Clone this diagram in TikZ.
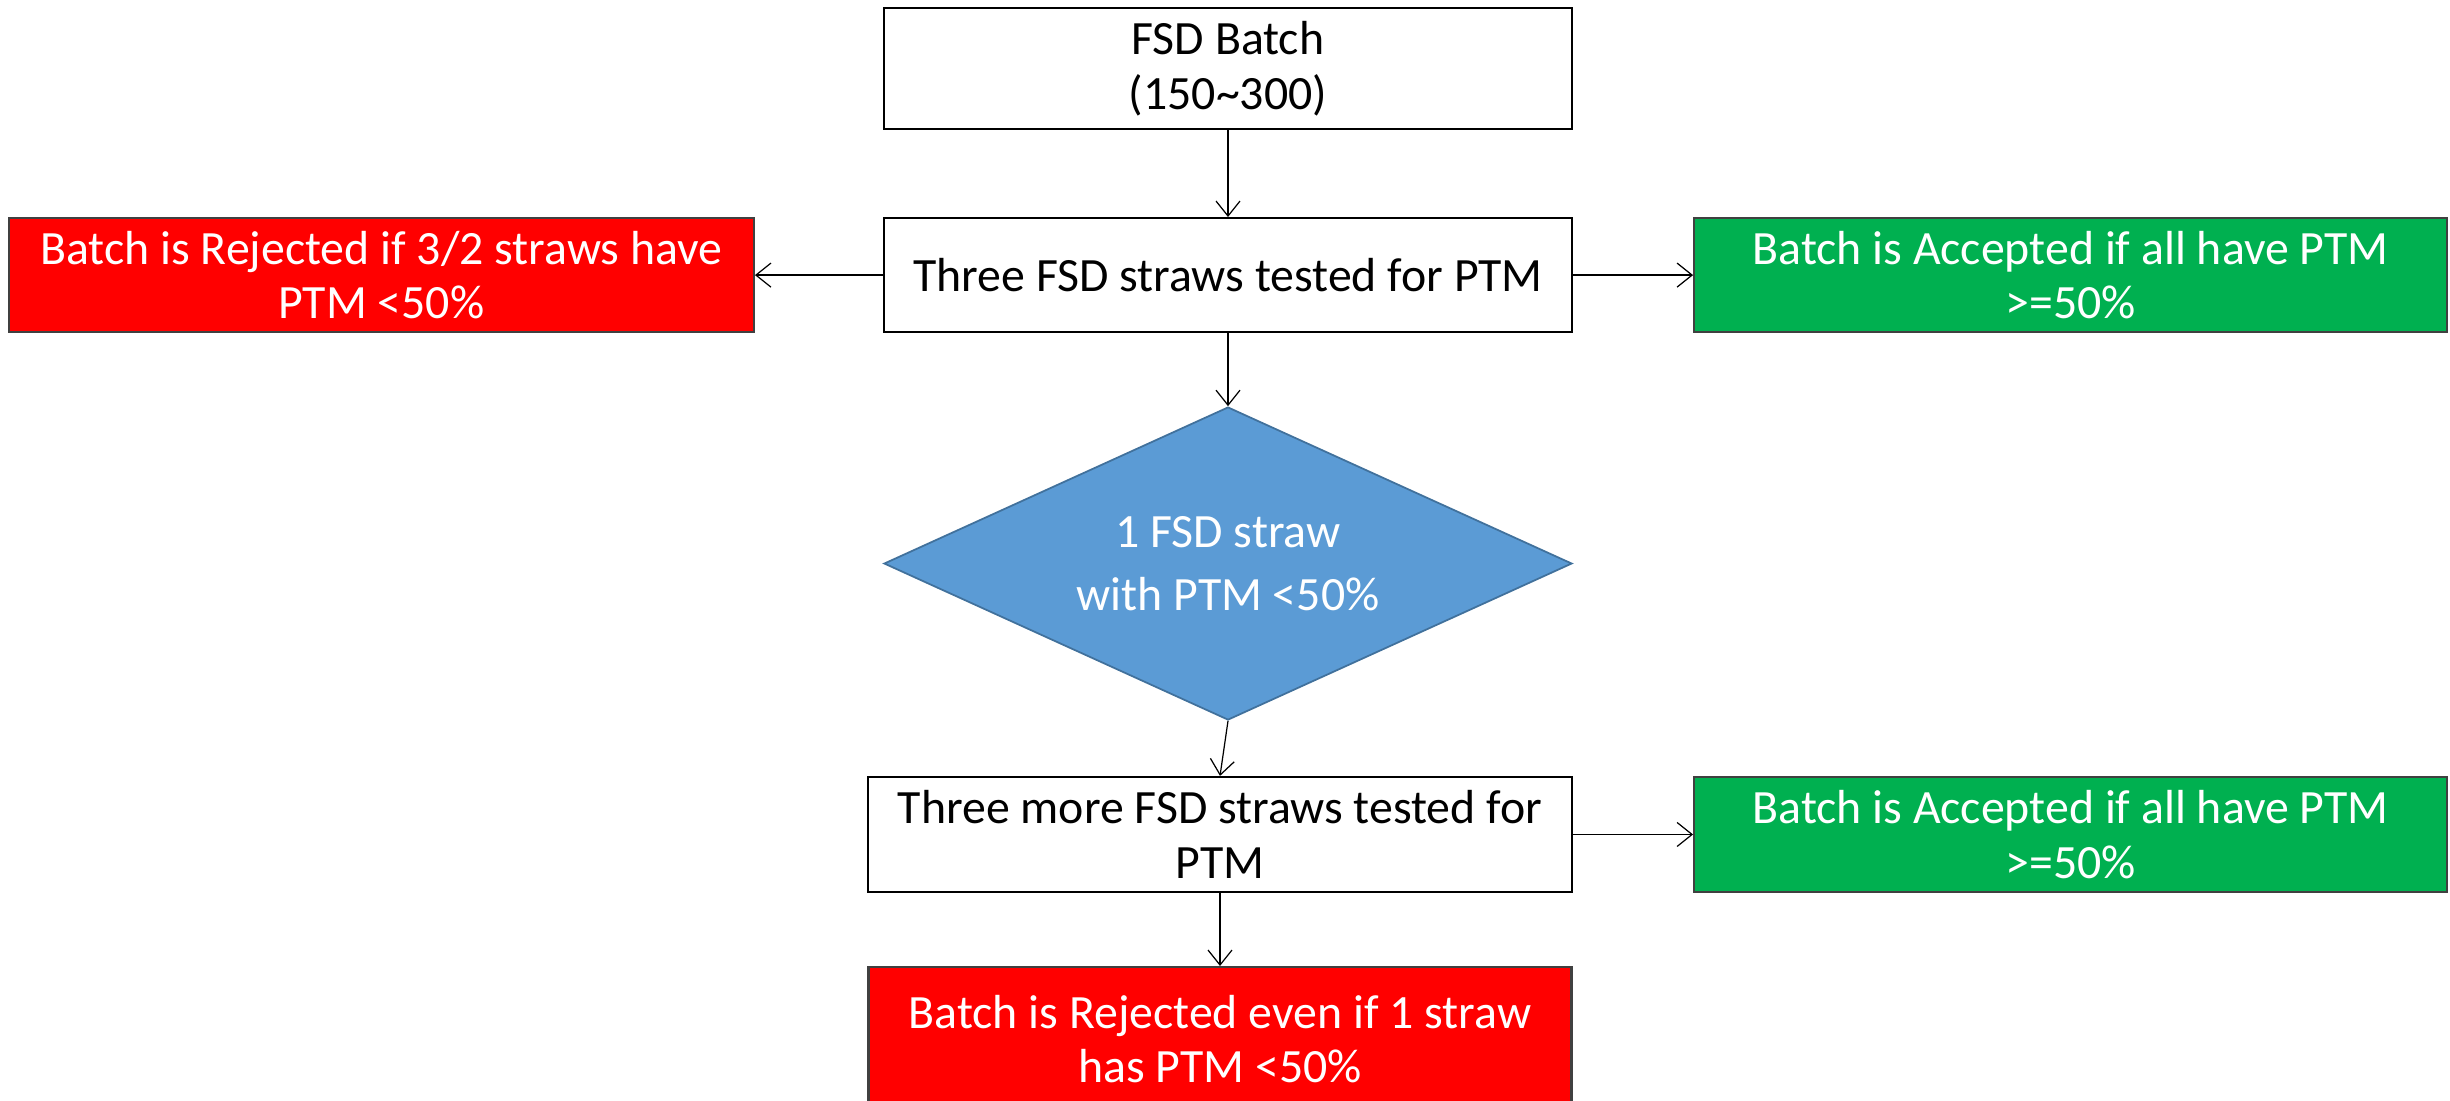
\documentclass[tikz,border=0pt]{standalone}
\usepackage{fontspec}
\setmainfont{Carlito}
\usetikzlibrary{arrows.meta,positioning,shapes.geometric}
\definecolor{okgreen}{HTML}{00B050}
\definecolor{decblue}{HTML}{5B9BD5}
\definecolor{decline}{HTML}{41719C}

\begin{document}
\begin{tikzpicture}[
  node distance=8mm and 12mm,
  box/.style={rectangle, draw=black, line width=0.6pt, fill=white,
              minimum width=6.88cm, minimum height=1.14cm, align=center,
              inner sep=0pt, font=\fontsize{13.6}{15.5}\selectfont},
  boxr/.style={box, fill=red, draw=black!75, text=white, minimum width=7.45cm},
  boxg/.style={box, fill=okgreen, draw=black!75, text=white, minimum width=7.53cm},
  decision/.style={diamond, aspect=2.2, draw=decline, fill=decblue, line width=0.5pt,
              text=white, align=center, inner sep=0pt,
              minimum width=6.88cm, minimum height=3.13cm,
              font=\fontsize{13.6}{18}\selectfont},
  arr/.style={-{Straight Barb[length=1.5mm, width=2.4mm]}, line width=0.35pt}
]
\useasboundingbox (0,0) rectangle (24.5,-11.01);

\node[box, minimum height=1.21cm] (batch) at (12.28,-0.685) {FSD Batch\\(150\textasciitilde300)};
\node[box, below=8.7mm of batch] (test) {Three FSD straws tested for PTM};
\node[boxr, left=12.8mm of test] (rej) {Batch is Rejected if 3/2 straws have\\PTM <50\%};
\node[boxg, right=12mm of test] (acc) {Batch is Accepted if all have PTM\\>=50\%};
\node[decision, below=7.3mm of test] (dec) {1 FSD straw\\with PTM <50\%};
\node[box, minimum width=7.04cm, minimum height=1.15cm, below=5.5mm of dec, xshift=-0.8mm] (more) {Three more FSD straws tested for\\PTM};
\node[boxg, minimum height=1.15cm] (acc2) at (acc |- more) {Batch is Accepted if all have PTM\\>=50\%};
\node[boxr, minimum width=7.03cm, minimum height=1.44cm, below=7.3mm of more] (rej2) {Batch is Rejected even if 1 straw\\has PTM <50\%};

\draw[arr] (batch) -- (test);
\draw[arr] (test) -- (rej);
\draw[arr] (test) -- (acc);
\draw[arr] (test) -- (dec);
\draw[arr] (dec.south) -- (more.north);
\draw[arr] (more) -- (acc2);
\draw[arr] (more) -- (rej2);
\end{tikzpicture}
\end{document}
